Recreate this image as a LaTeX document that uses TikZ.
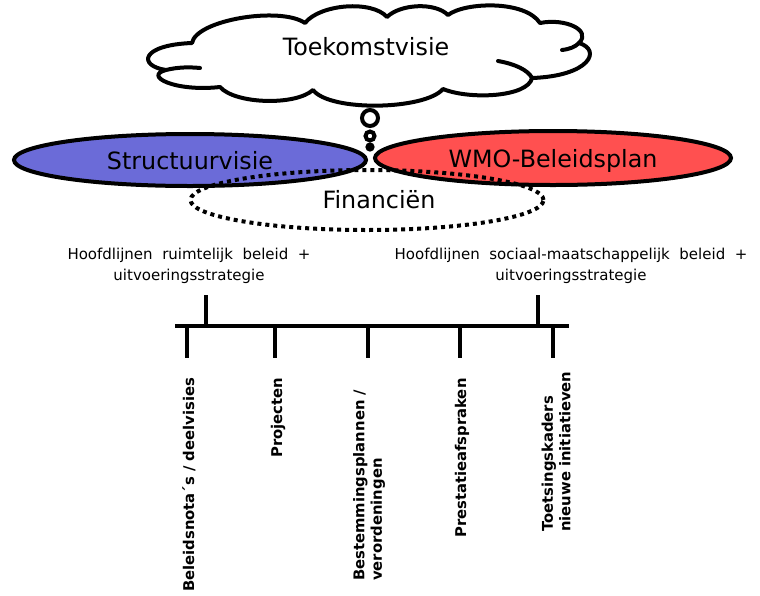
\documentclass[tikz,border=0pt]{standalone}
\usepackage{fontspec}
\setmainfont{DejaVu Sans}
\usetikzlibrary{shapes.geometric}
\definecolor{sblue}{RGB}{107,107,216}
\definecolor{wred}{RGB}{255,80,80}
\begin{document}
\begin{tikzpicture}[x=1pt,y=-1pt,
  oval/.style={ellipse, draw, line width=4pt, inner sep=0pt},
  bubble/.style={circle, draw, fill=white, line width=4pt, inner sep=0pt},
  bigtxt/.style={font=\fontsize{23.8}{26}\selectfont, inner sep=0pt},
  midtxt/.style={font=\fontsize{15}{21}\selectfont, align=center, inner sep=0pt},
  rottxt/.style={font=\bfseries\fontsize{14.8}{17.5}\selectfont, rotate=90, align=left, anchor=west, inner sep=0pt},
  cloudline/.style={line width=4pt, line join=round, line cap=round},
  barline/.style={line width=4pt}]
\useasboundingbox (0,0) rectangle (760,595);
% cloud
\draw[cloudline, fill=white]
  (192,43) .. controls (196,20) and (280,6) .. (305,23)
  .. controls (320,4) and (372,0) .. (387,17)
  .. controls (400,4) and (435,2) .. (448,15)
  .. controls (465,2) and (525,0) .. (540,23)
  .. controls (565,18) and (592,30) .. (579,43)
  .. controls (602,50) and (590,76) .. (532,78)
  .. controls (528,97) and (470,100) .. (443,89)
  .. controls (425,110) and (330,112) .. (313,90)
  .. controls (295,106) and (235,104) .. (220,87)
  .. controls (175,92) and (143,76) .. (166,70)
  .. controls (138,66) and (140,45) .. (192,43) -- cycle;
\draw[cloudline] (166,70) .. controls (178,67) and (190,67) .. (200,68);
\draw[cloudline] (579,43) .. controls (575,47) and (570,49) .. (562,50);
\draw[cloudline] (532,78) .. controls (528,70) and (515,64) .. (498,61);
\node[bigtxt] (tk) at (366,47) {Toekomstvisie};
% ellipses
\node[oval, fill=sblue, minimum width=352pt, minimum height=52pt] (sv) at (190,160) {};
\node[oval, fill=wred, minimum width=356pt, minimum height=54pt] (wmo) at (553,158) {};
% bubbles
\node[bubble, minimum size=16pt] (b1) at (370,118) {};
\node[bubble, minimum size=9pt] (b2) at (370,136) {};
\node[bubble, minimum size=5pt, fill=black] (b3) at (370,147) {};
% dotted ellipse
\node[ellipse, draw, line width=4pt, dash pattern=on 4pt off 4pt, minimum width=353pt, minimum height=60pt, inner sep=0pt] (fin) at (367,200) {};
\node[bigtxt] (svt) at (190,161) {Structuurvisie};
\node[bigtxt] (wmot) at (553,161) {WMO-Beleidsplan};
\node[bigtxt] (fint) at (379,200) {Financiën};
% texts
\node[midtxt] (hl) at (189,266) {Hoofdlijnen\ \ ruimtelijk\ \ beleid\ \ +\\uitvoeringsstrategie};
\node[midtxt] (hr) at (571,266) {Hoofdlijnen\ \ sociaal-maatschappelijk\ \ beleid\ \ +\\uitvoeringsstrategie};
% bar
\coordinate (bl) at (175,326);
\coordinate (br) at (569,326);
\draw[barline] (bl) -- (br);
\coordinate (u1t) at (206,295); \coordinate (u1b) at (206,326);
\coordinate (u2t) at (538,295); \coordinate (u2b) at (538,326);
\draw[barline] (u1t) -- (u1b);
\draw[barline] (u2t) -- (u2b);
\foreach \n/\x in {d1/187,d2/275,d3/368,d4/460,d5/553}{
  \coordinate (\n t) at (\x,327);
  \coordinate (\n b) at (\x,358);
  \draw[barline] (\n t) -- (\n b);
}
% rotated labels
\node[rottxt] (l1) at (189,592) {Beleidsnota´s / deelvisies};
\node[rottxt] (l2) at (278,458) {Projecten};
\node[rottxt] (l3) at (369,581) {Bestemmingsplannen /\\verordeningen};
\node[rottxt] (l4) at (462,538) {Prestatieafspraken};
\node[rottxt] (l5) at (556,532) {Toetsingskaders\\nieuwe initiatieven};
\end{tikzpicture}
\end{document}
